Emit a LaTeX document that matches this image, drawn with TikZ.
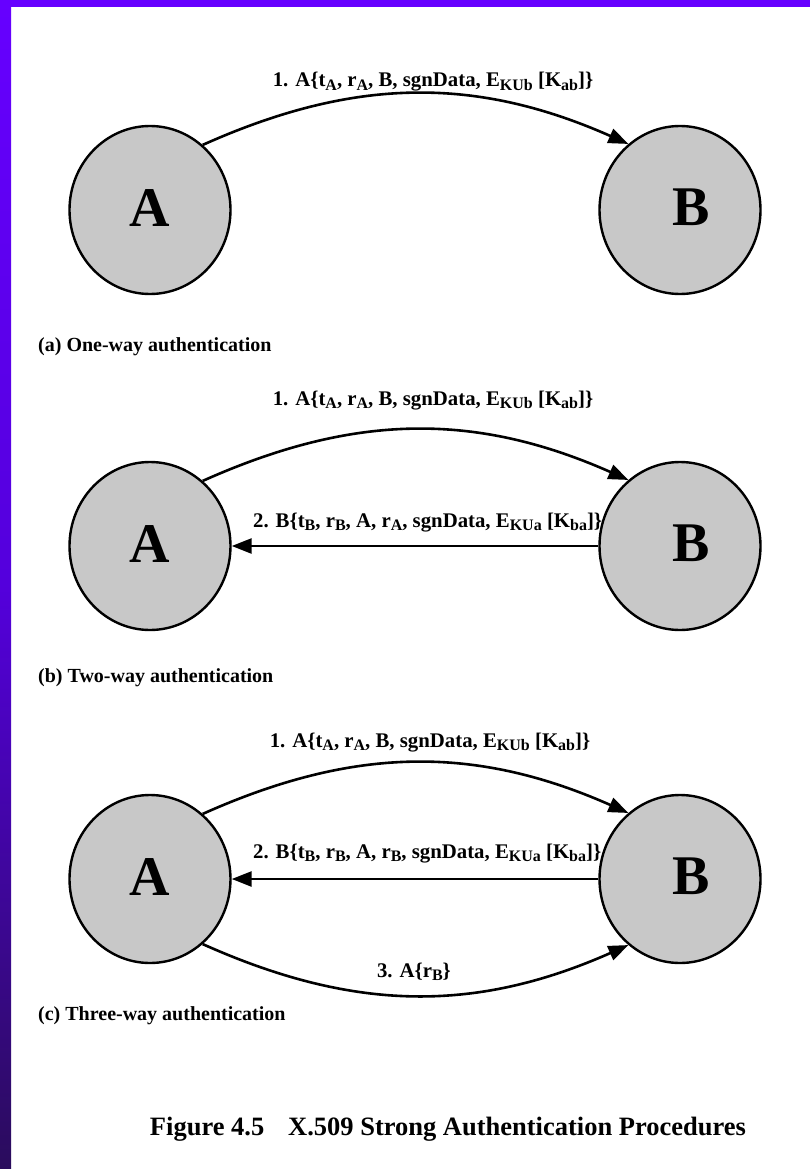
\documentclass[tikz,border=0pt]{standalone}
\usepackage{fontspec}
\setmainfont{Liberation Serif}
\usetikzlibrary{arrows.meta,shapes.geometric}
\pgfdeclarelayer{page}
\pgfdeclarelayer{background}
\pgfsetlayers{page,background,main}
\definecolor{slidepurple}{HTML}{6600FF}
\definecolor{slidemid}{HTML}{5400DC}
\definecolor{slidedark}{HTML}{2A0C5C}
\definecolor{partyfill}{HTML}{C8C8C8}
\newcommand{\sbx}[1]{\raisebox{-0.34ex}{\fontsize{16}{16}\selectfont #1}}
\newcommand{\partyA}{\raisebox{4pt}{A}}
\newcommand{\partyB}{\hspace*{22pt}\raisebox{5pt}{B}}
\tikzset{
  x=1pt, y=1pt,
  party/.style={ellipse, draw=black, line width=2.4pt, fill=partyfill,
    minimum width=161pt, minimum height=168pt, inner sep=0pt,
    font=\fontsize{56}{56}\selectfont\bfseries},
  msg/.style={line width=2.6pt, -{Triangle[length=20pt,width=15pt]}},
  msglabel/.style={anchor=base, inner sep=0pt, font=\fontsize{20.8}{20.8}\selectfont\bfseries},
  subcap/.style={anchor=base west, inner sep=0pt, font=\fontsize{20}{20}\selectfont\bfseries},
  figcap/.style={anchor=base, inner sep=0pt, font=\fontsize{26.5}{26.5}\selectfont\bfseries}
}
\begin{document}
\begin{tikzpicture}
\useasboundingbox (0,0) rectangle (810,-1169);
\begin{pgfonlayer}{page}
% page background and slide frame
\fill[white] (0,0) rectangle (810,-1169);
\fill[slidepurple] (0,0) rectangle (810,-7);
\shade[top color=slidepurple, bottom color=slidedark, middle color=slidemid] (0,0) rectangle (11,-1169);
\end{pgfonlayer}

% (a) one-way
\node[party] (a1) at (150,-210) {\partyA};
\node[party] (b1) at (680,-210) {\partyB};
% (b) two-way
\node[party] (a2) at (150,-546) {\partyA};
\node[party] (b2) at (680,-546) {\partyB};
% (c) three-way
\node[party] (a3) at (150,-879) {\partyA};
\node[party] (b3) at (680,-879) {\partyB};

\begin{pgfonlayer}{background}
\draw[msg] (a1.51) to[bend left=24] (b1.128);
\node[msglabel] (l1a) at (433,-87) {1. A\{t\sbx{A}, r\sbx{A}, B, sgnData, E\sbx{KUb} [K\sbx{ab}]\}};

\draw[msg] (a2.51) to[bend left=24] (b2.128);
\node[msglabel] (l1b) at (433,-405) {1. A\{t\sbx{A}, r\sbx{A}, B, sgnData, E\sbx{KUb} [K\sbx{ab}]\}};
\draw[msg] (b2.west) -- (a2.east);
\node[msglabel, anchor=base west] (l2b) at (253,-527) {2. B\{t\sbx{B}, r\sbx{B}, A, r\sbx{A}, sgnData, E\sbx{KUa} [K\sbx{ba}]\}};

\draw[msg] (a3.51) to[bend left=24] (b3.128);
\node[msglabel] (l1c) at (430,-747) {1. A\{t\sbx{A}, r\sbx{A}, B, sgnData, E\sbx{KUb} [K\sbx{ab}]\}};
\draw[msg] (b3.west) -- (a3.east);
\node[msglabel, anchor=base west] (l2c) at (253,-858) {2. B\{t\sbx{B}, r\sbx{B}, A, r\sbx{B}, sgnData, E\sbx{KUa} [K\sbx{ba}]\}};
\draw[msg] (a3.-51) to[bend right=24] (b3.-128);
\node[msglabel] (l3c) at (414,-977) {3. A\{r\sbx{B}\}};
\end{pgfonlayer}

% captions
\node[subcap] (capa) at (38,-351) {(a) One-way authentication};
\node[subcap] (capb) at (38,-682) {(b) Two-way authentication};
\node[subcap] (capc) at (38,-1020) {(c) Three-way authentication};
\node[figcap] (fig) at (448,-1135) {Figure 4.5\hspace{0.9em}X.509 Strong Authentication Procedures};
\end{tikzpicture}
\end{document}
